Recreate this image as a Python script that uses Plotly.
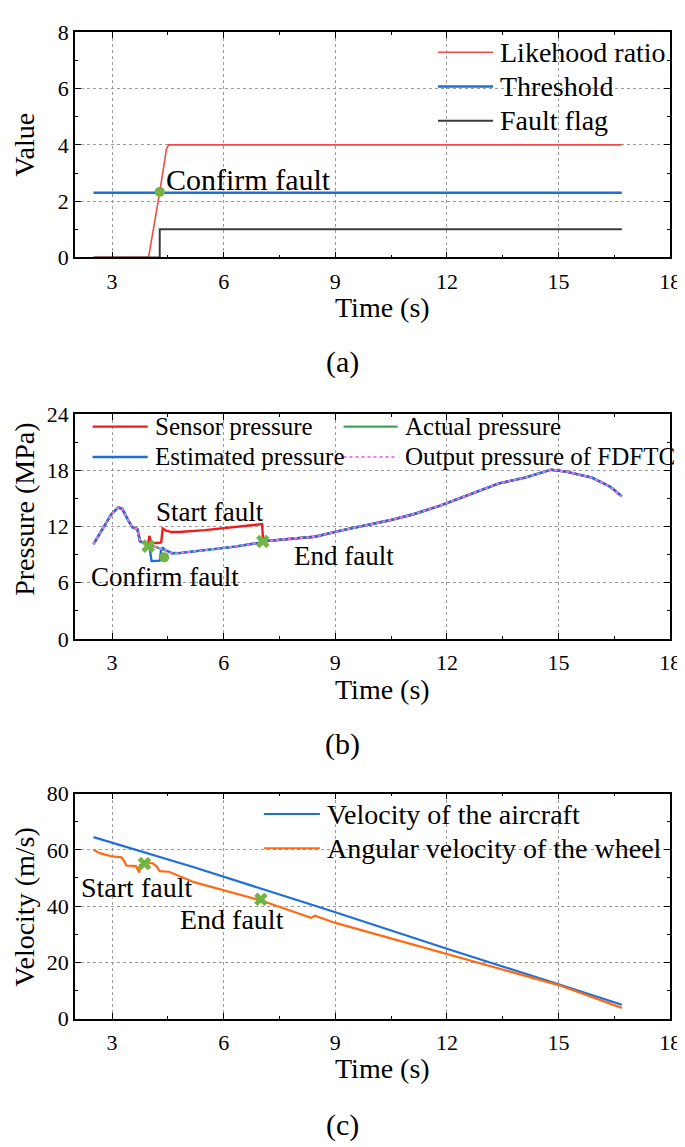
import plotly.graph_objects as go

W, H = 685, 1147
FONT = "Liberation Serif"

# ---------------- (a) likelihood ratio detection ----------------
t_lr = [2.5, 3.98, 4.28, 4.46, 4.52, 16.7]
likehood_ratio = [0, 0, 2.33, 3.85, 4.0, 4.0]
t_thr = [2.5, 16.7]
threshold = [2.3, 2.3]
t_flag = [2.5, 4.28, 4.28, 16.7]
fault_flag = [0, 0, 1, 1]
confirm_a_t = [4.28]
confirm_a_v = [2.33]

# ---------------- (b) pressure ----------------
t_p = [2.5, 2.98, 3.16, 3.27, 3.46, 3.55, 3.68, 3.75, 3.9, 3.97, 4.0, 4.06,
       4.28, 4.32, 4.36, 4.45, 4.6, 4.8, 5.5, 6.3, 7.03, 7.06, 7.8, 8.38,
       8.45, 9.2, 10.4, 11.1, 11.8, 12.6, 13.4, 14.1, 14.8, 15.2, 15.9,
       16.4, 16.7]
sensor_p = [10.1, 13.3, 14.0, 13.9, 12.45, 11.9, 11.7, 10.4, 10.2, 10.15,
            11.0, 10.2, 10.25, 10.3, 11.8, 11.55, 11.4, 11.4, 11.6, 11.9,
            12.25, 10.4, 10.7, 10.95, 10.9, 11.6, 12.6, 13.3, 14.2, 15.4,
            16.6, 17.2, 18.05, 17.85, 17.2, 16.2, 15.2]
actual_p = [10.1, 13.3, 14.0, 13.9, 12.45, 11.9, 11.7, 10.4, 10.2, 10.1,
            10.05, 9.95, 9.7, 9.65, 9.6, 9.4, 9.2, 9.15, 9.45, 9.85,
            10.3, 10.4, 10.7, 10.95, 10.9, 11.6, 12.6, 13.3, 14.2, 15.4,
            16.6, 17.2, 18.05, 17.85, 17.2, 16.2, 15.2]
estimated_p = [10.1, 13.3, 14.0, 13.9, 12.45, 11.9, 11.7, 10.4, 10.2, 10.1,
               9.9, 8.3, 8.35, 9.6, 9.7, 9.45, 9.1, 9.15, 9.45, 9.85,
               10.3, 10.4, 10.7, 10.95, 10.9, 11.6, 12.6, 13.3, 14.2, 15.4,
               16.6, 17.2, 18.05, 17.85, 17.2, 16.2, 15.2]
output_p = [10.1, 13.3, 14.0, 13.9, 12.45, 11.9, 11.7, 10.4, 10.2, 10.1,
            10.05, 9.95, 9.7, 9.6, 9.7, 9.45, 9.1, 9.15, 9.45, 9.85,
            10.3, 10.4, 10.7, 10.95, 10.9, 11.6, 12.6, 13.3, 14.2, 15.4,
            16.6, 17.2, 18.05, 17.85, 17.2, 16.2, 15.2]
fault_b_t = [3.97, 7.05]
fault_b_p = [9.9, 10.4]
confirm_b_t = [4.4]
confirm_b_p = [8.7]

# ---------------- (c) velocity ----------------
t_air = [2.5, 5.2, 9.0, 12.0, 15.0, 16.7]
v_aircraft = [64.5, 53.8, 37.8, 24.8, 12.2, 4.9]
t_wheel = [2.5, 2.67, 2.98, 3.25, 3.33, 3.38, 3.64, 3.73, 3.75, 3.86, 4.08,
           4.19, 4.28, 4.53, 5.2, 6.0, 7.0, 8.35, 8.45, 9.0, 12.0, 15.0, 16.7]
v_wheel = [60.0, 58.8, 57.7, 57.3, 55.9, 54.4, 54.2, 51.9, 54.6, 55.1, 55.3,
           54.2, 52.4, 52.2, 48.5, 45.6, 42.0, 35.8, 36.6, 34.0, 22.9, 11.9, 3.8]
fault_c_t = [3.87, 7.0]
fault_c_v = [55.1, 42.4]

MARK = "#72b443"

fig = go.Figure()

def line(x, y, color, width, axis, dash="solid"):
    fig.add_trace(go.Scatter(x=x, y=y, mode="lines", xaxis="x" + axis, yaxis="y" + axis,
                             line=dict(color=color, width=width, dash=dash), showlegend=False))

def marks(x, y, symbol, size, axis):
    fig.add_trace(go.Scatter(x=x, y=y, mode="markers", xaxis="x" + axis, yaxis="y" + axis,
                             marker=dict(symbol=symbol, size=size, color=MARK, line=dict(width=0)),
                             showlegend=False))

# (a)
line(t_lr, likehood_ratio, "#f04a4a", 1.6, "")
line(t_thr, threshold, "#1f6fd6", 2.6, "")
line(t_flag, fault_flag, "#3c3c3c", 2, "")
marks(confirm_a_t, confirm_a_v, "circle", 10, "")
# (b)
line(t_p, sensor_p, "#ee1c1c", 2.4, "2")
line(t_p, actual_p, "#3aa757", 2.4, "2")
line(t_p, estimated_p, "#1f6ed4", 2.4, "2")
line(t_p, output_p, "#ff70ff", 2, "2", dash="3px,3px")
marks(fault_b_t, fault_b_p, "x", 12, "2")
marks(confirm_b_t, confirm_b_p, "circle", 10, "2")
# (c)
line(t_air, v_aircraft, "#1f6fd6", 2.2, "3")
line(t_wheel, v_wheel, "#ff6a13", 2.2, "3")
marks(fault_c_t, fault_c_v, "x", 12, "3")

# pixel position in the picture -> paper coordinates
def px(x):
    return x / W

def py(y):
    return 1 - y / H

def ydom(top, bottom):
    return [py(bottom), py(top)]

common = dict(showline=True, linecolor="black", linewidth=1.5, mirror="allticks",
              ticks="inside", ticklen=6, tickwidth=1.2, tickcolor="black",
              showgrid=True, gridcolor="#9a9a9a", gridwidth=1, griddash="dot",
              zeroline=False, tickfont=dict(family=FONT, size=22, color="black"))
xcommon = dict(common, range=[2, 18], tick0=0, dtick=3, domain=[px(68), px(673)],
               ticklabelstandoff=3,
               minor=dict(ticks="inside", ticklen=3, dtick=1.5, tickcolor="black", showgrid=False))

fig.update_layout(
    width=W, height=H, margin=dict(l=0, r=0, t=0, b=0),
    paper_bgcolor="white", plot_bgcolor="white",
    font=dict(family=FONT, color="black"),
    xaxis=dict(xcommon, anchor="y"),
    yaxis=dict(common, range=[0, 8], dtick=2, domain=ydom(12.7, 242.7), anchor="x",
               minor=dict(ticks="inside", ticklen=3, dtick=1, tickcolor="black", showgrid=False)),
    xaxis2=dict(xcommon, anchor="y2"),
    yaxis2=dict(common, range=[0, 24], dtick=6, domain=ydom(402.7, 632.7), anchor="x2",
                minor=dict(ticks="inside", ticklen=3, dtick=3, tickcolor="black", showgrid=False)),
    xaxis3=dict(xcommon, anchor="y3"),
    yaxis3=dict(common, range=[0, 80], dtick=20, domain=ydom(790.8, 1020.8), anchor="x3",
                minor=dict(ticks="inside", ticklen=3, dtick=10, tickcolor="black", showgrid=False)),
)

def text(x_px, y_px, s, size, anchor="center", angle=0):
    fig.add_annotation(xref="paper", yref="paper", x=px(x_px), y=py(y_px), text=s,
                       showarrow=False, xanchor=anchor, yanchor="middle", textangle=angle,
                       font=dict(family=FONT, size=size, color="black"))

def legend_item(y_px, x0, x1, color, width, label, size, dash="solid"):
    fig.add_shape(type="line", xref="paper", yref="paper", x0=px(x0), x1=px(x1),
                  y0=py(y_px), y1=py(y_px), line=dict(color=color, width=width, dash=dash))
    text(x1 + 5, y_px, label, size, anchor="left")

# legends
legend_item(33, 437, 493, "#f04a4a", 1.6, "Likehood ratio", 28)
legend_item(68, 437, 493, "#1f6fd6", 2.6, "Threshold", 28)
legend_item(103, 437, 493, "#3c3c3c", 2, "Fault flag", 28)

legend_item(415.7, 86, 142, "#ee1c1c", 2.4, "Sensor pressure", 25)
legend_item(446.7, 86, 142, "#1f6ed4", 2.4, "Estimated pressure", 25)
legend_item(415.7, 341, 396, "#3aa757", 2.4, "Actual pressure", 25)
legend_item(446.7, 341, 396, "#ff70ff", 2, "Output pressure of FDFTC", 25, dash="3px,3px")

legend_item(811.7, 260, 317, "#1f6fd6", 2.2, "Velocity of the aircraft", 28)
legend_item(846.7, 260, 317, "#ff6a13", 2.2, "Angular velocity of the wheel", 28)

# annotations on the curves
text(244, 162.7, "Confirm fault", 30)
text(205, 503.3, "Start fault", 27)
text(341.7, 548.3, "End fault", 27)
text(160, 569, "Confirm fault", 27)
text(131, 886.7, "Start fault", 28)
text(227.5, 920, "End fault", 28)

# axis titles and panel labels
for y_t in (294, 684, 1072):
    text(381, y_t, "Time (s)", 28)
text(17, 127.7, "Value", 28, angle=-90)
text(16, 500, "Pressure (MPa)", 28, angle=-90)
text(17, 906.7, "Velocity (m/s)", 28, angle=-90)
text(340, 350, "(a)", 30)
text(340, 740, "(b)", 30)
text(340, 1130, "(c)", 30)

fig.write_html("out.html")
